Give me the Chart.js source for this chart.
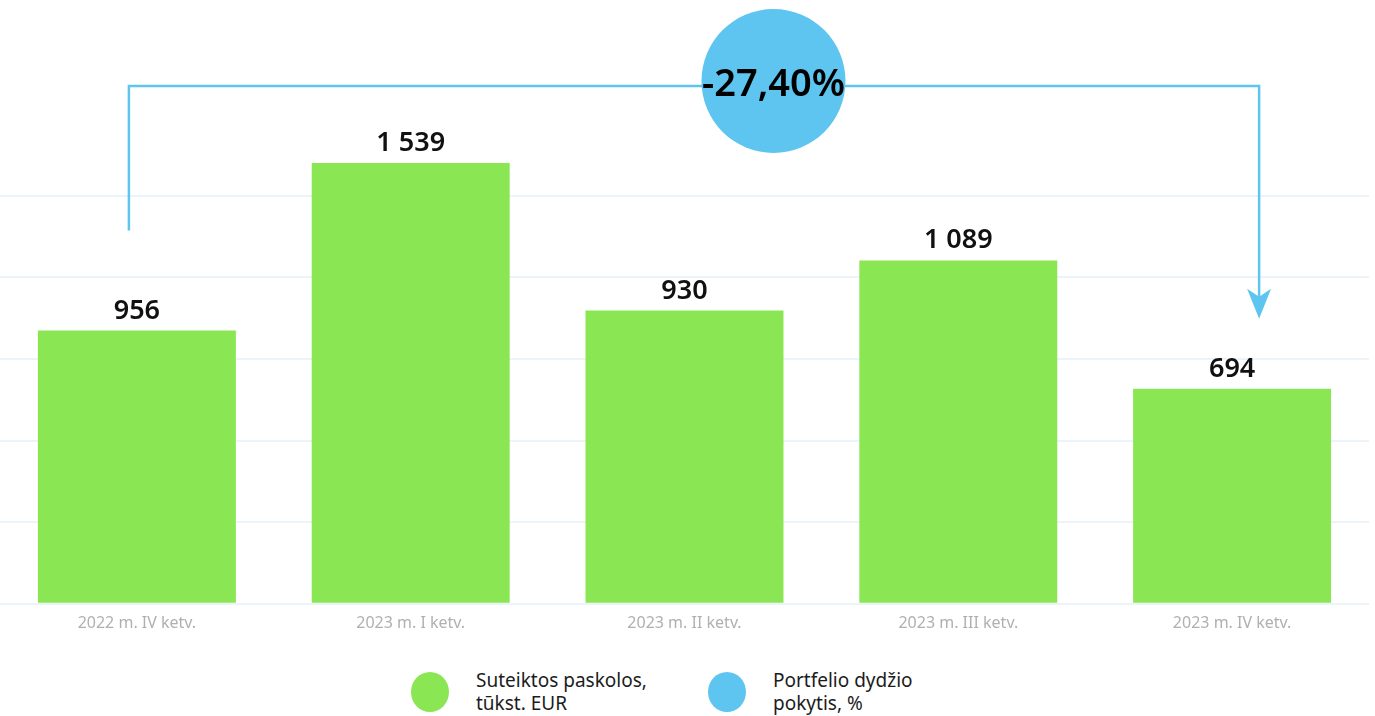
<!DOCTYPE html>
<html>
<head>
<meta charset="utf-8">
<title>Suteiktos paskolos</title>
<script src="https://cdn.jsdelivr.net/npm/chart.js@4.4.0/dist/chart.umd.min.js"></script>
<style>
  html, body { margin: 0; padding: 0; background: #fff; }
  #wrap { position: relative; width: 1375px; height: 716px; font-family: 'Noto Sans', sans-serif; }
  #box { position: absolute; left: 0; top: 0; width: 1375px; height: 650px; }
  .leg { position: absolute; top: 669px; display: flex; align-items: center; }
  .leg .dot { width: 38px; height: 40px; border-radius: 50%; margin-right: 27px; }
  .leg .txt { font-size: 19px; line-height: 23px; color: #1c1c1c; }
</style>
<script>
// kategorijos (ketvirčiai)
const categories = ['2022 m. IV ketv.', '2023 m. I ketv.', '2023 m. II ketv.', '2023 m. III ketv.', '2023 m. IV ketv.'];
// skaičiai virš stulpelių, tūkst. EUR
const loanValues = [956, 1539, 930, 1089, 694];
// stulpelių aukščiai, nuskaityti nuo paveikslo (ta pati skalė)
const barHeights = [954, 1539, 1024, 1199, 751];
// tinklelio linijos
const gridTicks = [0, 285, 570, 855, 1140, 1425];
const changeText = '-27,40%';

const GREEN = '#8ae653';
const BLUE = '#5ec5f0';
const FONT = "'Noto Sans', sans-serif";

function fmt(v) {
    return String(v).replace(/\B(?=(\d{3})+(?!\d))/g, ' ');
}

const extras = {
    id: 'extras',
    afterDatasetsDraw(chart) {
        const ctx = chart.ctx;
        const meta = chart.getDatasetMeta(0);
        const area = chart.chartArea;

        // reikšmės virš stulpelių
        ctx.save();
        ctx.fillStyle = '#111';
        ctx.font = '600 27px ' + FONT;
        ctx.textAlign = 'center';
        ctx.textBaseline = 'alphabetic';
        meta.data.forEach((bar, i) => {
            ctx.fillText(fmt(loanValues[i]), bar.x, bar.y - 12);
        });
        ctx.restore();

        // rodyklė nuo pirmo iki paskutinio ketvirčio
        const first = meta.data[0], last = meta.data[meta.data.length - 1];
        const x1 = first.x - 8, x2 = last.x + 27;
        const yTop = area.top + 55;
        const yStart = first.y - 100;
        const yTip = last.y - 70;
        ctx.save();
        ctx.strokeStyle = BLUE;
        ctx.lineWidth = 2.5;
        ctx.beginPath();
        ctx.moveTo(x1, yStart);
        ctx.lineTo(x1, yTop);
        ctx.lineTo(x2, yTop);
        ctx.lineTo(x2, yTip - 20);
        ctx.stroke();
        ctx.fillStyle = BLUE;
        ctx.beginPath();
        ctx.moveTo(x2, yTip);
        ctx.lineTo(x2 - 12, yTip - 30);
        ctx.lineTo(x2, yTip - 22);
        ctx.lineTo(x2 + 12, yTip - 30);
        ctx.closePath();
        ctx.fill();

        // apskritimas su pokyčiu
        const cx = area.left + (area.right - area.left) * 0.565;
        const cy = yTop - 5;
        ctx.beginPath();
        ctx.arc(cx, cy, 72, 0, Math.PI * 2);
        ctx.fill();
        ctx.fillStyle = '#000';
        ctx.font = '600 38px ' + FONT;
        ctx.textAlign = 'center';
        ctx.textBaseline = 'middle';
        ctx.fillText(changeText, cx, cy + 4);
        ctx.restore();
    }
};

onload = function () {
    const ctx = document.getElementById('chart').getContext('2d');
    new Chart(ctx, {
        type: 'bar',
        data: {
            labels: categories,
            datasets: [{
                label: 'Suteiktos paskolos, tūkst. EUR',
                data: barHeights,
                backgroundColor: GREEN,
                borderWidth: 0,
                barPercentage: 0.723,
                categoryPercentage: 1
            }]
        },
        options: {
            responsive: true,
            maintainAspectRatio: false,
            animation: false,
            layout: { padding: { top: 31, right: 6, bottom: 7, left: 0 } },
            plugins: {
                legend: { display: false },
                tooltip: { enabled: false }
            },
            scales: {
                x: {
                    grid: { display: false, drawTicks: false },
                    border: { display: false },
                    ticks: {
                        color: '#b0b0b0',
                        font: { family: FONT, size: 16 },
                        padding: 10,
                        maxRotation: 0
                    }
                },
                y: {
                    min: 0,
                    max: 2000,
                    afterBuildTicks(axis) {
                        axis.ticks = gridTicks.map(v => ({ value: v }));
                    },
                    ticks: { display: false },
                    border: { display: false },
                    grid: { color: '#eaf4fa', lineWidth: 2, drawTicks: false }
                }
            }
        },
        plugins: [extras]
    });
};
</script>
</head>
<body>
<div id="wrap">
  <div id="box"><canvas id="chart"></canvas></div>
  <div class="leg" style="left:411px;">
    <div class="dot" style="background:#8ae653;"></div>
    <div class="txt">Suteiktos paskolos,<br>tūkst. EUR</div>
  </div>
  <div class="leg" style="left:708px;">
    <div class="dot" style="background:#5ec5f0;"></div>
    <div class="txt">Portfelio dydžio<br>pokytis, %</div>
  </div>
</div>
</body>
</html>
